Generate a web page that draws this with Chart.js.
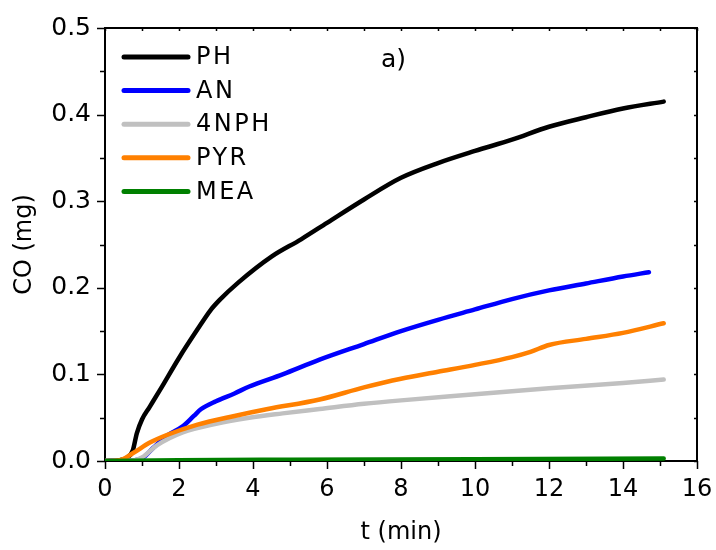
<!DOCTYPE html>
<html>
<head>
<meta charset="utf-8">
<script src="https://cdn.jsdelivr.net/npm/chart.js@4/dist/chart.umd.min.js"></script>
<style>
  html, body { margin: 0; padding: 0; background: #fff; }
  #wrap { width: 716px; height: 550px; }
</style>
</head>
<body>
<div id="wrap"><canvas id="Chart1" width="716" height="550"></canvas></div>
<script>
// CO evolution vs time for each additive
var seriesNames = ["PH", "AN", "4NPH", "PYR", "MEA"];
var seriesColors = ["#000000", "#0000ff", "#c0c0c0", "#ff8000", "#008000"];

var tPH  = [0, 0.4, 0.6, 0.75, 0.86, 1.0, 1.2, 1.5, 2.0, 2.5, 2.85, 3.1, 3.6, 4.5, 5.3, 6, 7, 8, 9, 10, 11, 12, 13, 14, 15.1];
var coPH = [0, 0.001, 0.004, 0.012, 0.032, 0.048, 0.062, 0.083, 0.119, 0.152, 0.174, 0.186, 0.206, 0.236, 0.256, 0.275, 0.302, 0.327, 0.344, 0.358, 0.371, 0.386, 0.397, 0.407, 0.415];

var tAN  = [0, 0.8, 1.03, 1.3, 1.67, 2.1, 2.4, 2.6, 3.0, 3.5, 3.9, 4.8, 5.8, 7, 8, 9, 10, 11, 12, 13, 14, 14.7];
var coAN = [0, 0.001, 0.004, 0.015, 0.029, 0.040, 0.052, 0.060, 0.069, 0.078, 0.086, 0.100, 0.117, 0.135, 0.150, 0.163, 0.175, 0.187, 0.197, 0.205, 0.213, 0.218];

var tNPH  = [0, 0.8, 1.0, 1.4, 2.1, 3.0, 3.9, 4.8, 5.8, 7, 8, 10, 12, 14, 15.1];
var coNPH = [0, 0.001, 0.004, 0.018, 0.033, 0.043, 0.050, 0.055, 0.060, 0.066, 0.070, 0.077, 0.084, 0.090, 0.094];

var tPYR  = [0, 0.4, 0.75, 1.2, 1.67, 2.5, 3.5, 4.4, 5.8, 7, 8, 9, 10, 11, 11.5, 12, 13, 14, 15.1];
var coPYR = [0, 0.001, 0.009, 0.021, 0.030, 0.042, 0.052, 0.060, 0.071, 0.085, 0.095, 0.103, 0.111, 0.120, 0.126, 0.134, 0.141, 0.148, 0.159];

var tMEA  = [0, 2, 5, 10, 15.1];
var coMEA = [0, 0.001, 0.0015, 0.002, 0.003];

var xTicks = [0, 2, 4, 6, 8, 10, 12, 14, 16];
var yTicks = [0.0, 0.1, 0.2, 0.3, 0.4, 0.5];

var panelLabel = "a)";

function pts(ts, vs) {
  return ts.map(function (t, i) { return { x: t, y: vs[i] }; });
}

var allT = [tPH, tAN, tNPH, tPYR, tMEA];
var allCO = [coPH, coAN, coNPH, coPYR, coMEA];
var drawOrder = [4, 3, 2, 1, 0];

var FONT = "'DejaVu Sans', sans-serif";

// ticks (outside on left/bottom, inside on top/right); box lines come from the axis borders
function drawTicks(chart) {
  var ctx = chart.ctx;
  var xs = chart.scales.x, ys = chart.scales.y;
  var L = xs.getPixelForValue(0), R = xs.getPixelForValue(16);
  var B = ys.getPixelForValue(0), T = ys.getPixelForValue(0.5);
  ctx.save();
  ctx.strokeStyle = '#000000';
  ctx.lineWidth = 1.5;
  ctx.beginPath();
  for (var i = 0; i <= 16; i++) {
    var px = Math.round(xs.getPixelForValue(i)) + 0.5;
    var len = (i % 2 === 0) ? 8 : 5;
    ctx.moveTo(px, B); ctx.lineTo(px, B + len);
    ctx.moveTo(px, T); ctx.lineTo(px, T + 3);
  }
  for (var j = 0; j <= 10; j++) {
    var py = Math.round(ys.getPixelForValue(j * 0.05)) + 0.5;
    var l2 = (j % 2 === 0) ? 8 : 5;
    ctx.moveTo(L, py); ctx.lineTo(L - l2, py);
    ctx.moveTo(R, py); ctx.lineTo(R - 3, py);
  }
  ctx.stroke();
  ctx.restore();
}

var framePlugin = {
  id: 'frameTicks',
  afterDraw: function (chart) {
    drawTicks(chart);
    var ctx = chart.ctx;
    ctx.save();
    ctx.lineCap = 'round';
    ctx.lineWidth = 5;
    ctx.font = '24px ' + FONT;
    ctx.textBaseline = 'middle';
    ctx.fillStyle = '#000';
    if ('letterSpacing' in ctx) ctx.letterSpacing = '2.5px';
    for (var i = 0; i < seriesNames.length; i++) {
      var y = 57 + i * 33.6;
      ctx.strokeStyle = seriesColors[i];
      ctx.beginPath();
      ctx.moveTo(124, y); ctx.lineTo(188, y);
      ctx.stroke();
      ctx.fillText(seriesNames[i], 196, y + 1);
    }
    if ('letterSpacing' in ctx) ctx.letterSpacing = '0px';
    ctx.font = '25px ' + FONT;
    ctx.fillText(panelLabel, 381, 60);
    ctx.restore();
  }
};

var axisBorder = { display: true, color: '#000', width: 2 };

var ctxL = document.getElementById("Chart1").getContext('2d');
var myLineChart = new Chart(ctxL, {
  type: 'line',
  data: {
    datasets: seriesNames.map(function (name, i) {
      return {
        label: name,
        data: pts(allT[i], allCO[i]),
        borderColor: seriesColors[i],
        backgroundColor: seriesColors[i],
        borderWidth: 4.5,
        pointRadius: 0,
        fill: false,
        cubicInterpolationMode: 'monotone',
        borderCapStyle: 'round',
        order: drawOrder[i]
      };
    })
  },
  options: {
    responsive: false,
    animation: false,
    layout: { padding: { top: 28, right: 19, left: 0, bottom: 0 } },
    plugins: {
      legend: { display: false },
      tooltip: { enabled: false }
    },
    scales: {
      x: {
        type: 'linear',
        min: 0, max: 16,
        afterBuildTicks: function (s) { s.ticks = xTicks.map(function (v) { return { value: v }; }); },
        afterFit: function (s) { s.height = 89; s.paddingLeft = 0; s.paddingRight = 0; },
        grid: { display: false, drawTicks: false },
        border: axisBorder,
        ticks: {
          color: '#000',
          padding: 14,
          maxRotation: 0,
          font: { family: FONT, size: 24 },
          callback: function (v) { return String(v); }
        },
        title: {
          display: true,
          text: 't (min)',
          color: '#000',
          font: { family: FONT, size: 24 },
          padding: { top: 0, bottom: 3 }
        }
      },
      xTop: {
        type: 'linear',
        position: 'top',
        min: 0, max: 16,
        afterFit: function (s) { s.height = 0; s.paddingLeft = 0; s.paddingRight = 0; },
        grid: { display: false, drawTicks: false },
        border: axisBorder,
        ticks: { display: false }
      },
      y: {
        type: 'linear',
        min: 0, max: 0.5,
        afterBuildTicks: function (s) { s.ticks = yTicks.map(function (v) { return { value: v }; }); },
        afterFit: function (s) { s.width = 105; s.paddingTop = 0; s.paddingBottom = 0; },
        grid: { display: false, drawTicks: false },
        border: axisBorder,
        ticks: {
          color: '#000',
          padding: 14,
          font: { family: FONT, size: 25 },
          callback: function (v) { return v.toFixed(1); }
        },
        title: {
          display: true,
          text: 'CO (mg)',
          color: '#000',
          font: { family: FONT, size: 24 },
          padding: { top: 10, bottom: 0 }
        }
      },
      yRight: {
        type: 'linear',
        position: 'right',
        min: 0, max: 0.5,
        afterFit: function (s) { s.width = 0; s.paddingTop = 0; s.paddingBottom = 0; },
        grid: { display: false, drawTicks: false },
        border: axisBorder,
        ticks: { display: false }
      }
    }
  },
  plugins: [framePlugin]
});
</script>
</body>
</html>
